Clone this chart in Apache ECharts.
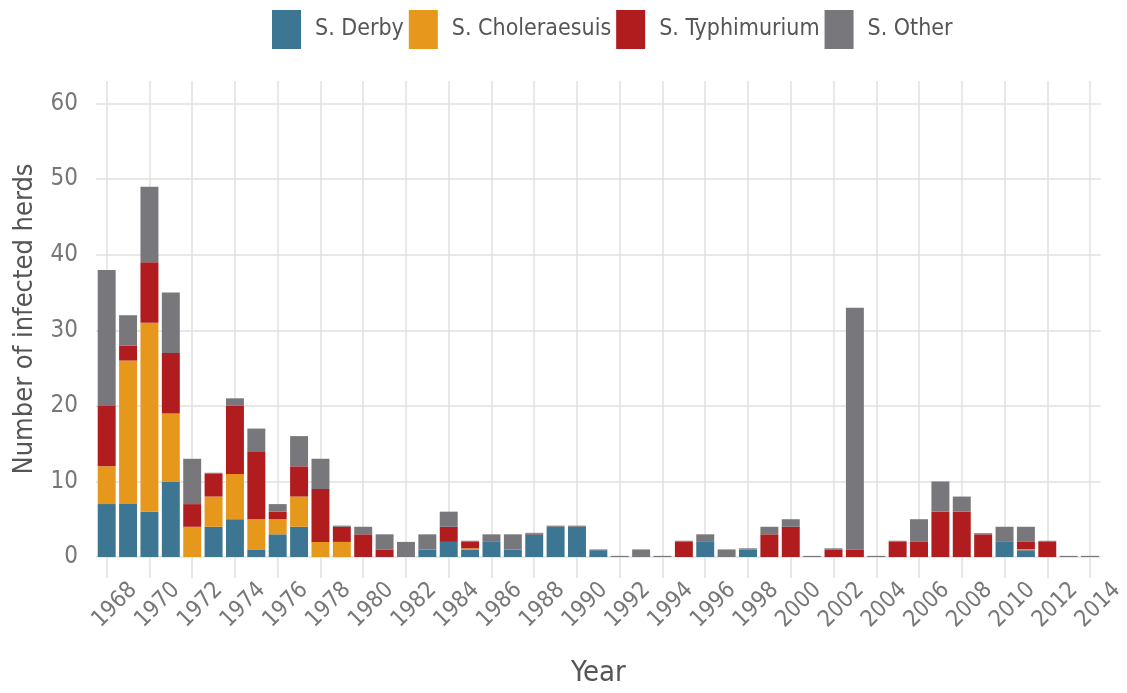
<!DOCTYPE html>
<html>
<head>
<meta charset="utf-8">
<title>Salmonella infected herds</title>
<script src="https://cdn.jsdelivr.net/npm/echarts@6/dist/echarts.min.js"></script>
<style>
  html, body { margin: 0; padding: 0; background: #fff; }
  #chart { width: 1127px; height: 693px; }
</style>
</head>
<body>
<div id="chart"></div>
<script>
// years 1968 - 2014
const years = ['1968', '1969', '1970', '1971', '1972', '1973', '1974', '1975', '1976', '1977',
  '1978', '1979', '1980', '1981', '1982', '1983', '1984', '1985', '1986', '1987',
  '1988', '1989', '1990', '1991', '1992', '1993', '1994', '1995', '1996', '1997',
  '1998', '1999', '2000', '2001', '2002', '2003', '2004', '2005', '2006', '2007',
  '2008', '2009', '2010', '2011', '2012', '2013', '2014']

const derby = [7, 7, 6, 10, 0, 4, 5, 1, 3, 4,
  0, 0, 0, 0, 0, 1, 2, 1, 2, 1,
  3, 4, 4, 0.9, 0, 0, 0, 0, 2, 0,
  1, 0, 0, 0, 0, 0, 0, 0, 0, 0,
  0, 0, 2, 0.9, 0, 0, 0]

const choleraesuis = [5, 19, 25, 9, 4, 4, 6, 4, 2, 4,
  2, 2, 0, 0, 0, 0, 0, 0.15, 0, 0,
  0, 0, 0, 0, 0, 0, 0, 0, 0, 0,
  0, 0, 0, 0, 0, 0, 0, 0, 0, 0,
  0, 0, 0, 0.15, 0, 0, 0]

const typhimurium = [8, 2, 8, 8, 3, 3, 9, 9, 1, 4,
  7, 2, 3, 1, 0, 0, 2, 0.85, 0, 0,
  0.1, 0, 0, 0, 0, 0, 0, 2, 0, 0,
  0, 3, 4, 0, 1, 1, 0, 2, 2, 6,
  6, 3, 0, 0.95, 2, 0, 0]

const other = [18, 4, 10, 8, 6, 0.15, 1, 3, 1, 4,
  4, 0.15, 1, 2, 2, 2, 2, 0.15, 1, 2,
  0.1, 0.15, 0.15, 0.1, 0.15, 1, 0.15, 0.15, 1, 1,
  0.15, 1, 1, 0.15, 0.15, 32, 0.15, 0.15, 3, 4,
  2, 0.15, 2, 2, 0.15, 0.15, 0.15]

const yTicks = [0, 10, 20, 30, 40, 50, 60]

const font = "'DejaVu Sans Condensed', 'Liberation Sans Narrow', sans-serif"
const gridColor = '#e0e0e0'

const chart = echarts.init(document.getElementById('chart'))

function barSeries(name, data, color) {
  return {
    name: name,
    type: 'bar',
    stack: 'herds',
    data: data,
    barCategoryGap: '16%',
    itemStyle: { color: color },
    emphasis: { disabled: true }
  }
}

chart.setOption({
  animation: false,
  textStyle: { fontFamily: font },
  legend: {
    top: 5,
    left: 267,
    icon: 'rect',
    itemWidth: 29,
    itemHeight: 39,
    itemGap: 5,
    textStyle: {
      fontFamily: font,
      fontSize: 23,
      color: '#555',
      padding: [0, 0, 0, 9]
    }
  },
  grid: {
    left: 96,
    right: 23,
    top: 81,
    bottom: 134.5
  },
  xAxis: {
    type: 'category',
    data: years,
    name: 'Year',
    nameLocation: 'middle',
    nameGap: 102,
    nameTextStyle: { fontFamily: font, fontSize: 29, color: '#555' },
    axisLine: { show: false },
    axisTick: {
      show: true,
      interval: 1,
      alignWithLabel: true,
      length: 21,
      lineStyle: { color: gridColor, width: 1.5 }
    },
    axisLabel: {
      interval: 1,
      rotate: 45,
      align: 'center',
      verticalAlign: 'top',
      margin: 40,
      fontFamily: font,
      fontSize: 23,
      color: '#777'
    },
    splitLine: {
      show: true,
      interval: 1,
      alignWithLabel: true,
      lineStyle: { color: gridColor, width: 1.5 }
    }
  },
  yAxis: {
    type: 'value',
    min: 0,
    max: 63,
    interval: 10,
    name: 'Number of infected herds',
    nameLocation: 'middle',
    nameGap: 58,
    nameTextStyle: { fontFamily: font, fontSize: 27, color: '#555' },
    axisLine: { show: false },
    axisTick: { show: false },
    axisLabel: {
      margin: 18,
      fontFamily: font,
      fontSize: 24,
      color: '#777',
      formatter: v => (yTicks.indexOf(v) >= 0 ? String(v) : '')
    },
    splitLine: {
      show: true,
      showMaxLine: false,
      lineStyle: { color: gridColor, width: 1.5 }
    }
  },
  series: [
    barSeries('S. Derby', derby, '#3c7692'),
    barSeries('S. Choleraesuis', choleraesuis, '#e6981c'),
    barSeries('S. Typhimurium', typhimurium, '#b11c1f'),
    barSeries('S. Other', other, '#78787c')
  ]
})
</script>
</body>
</html>
